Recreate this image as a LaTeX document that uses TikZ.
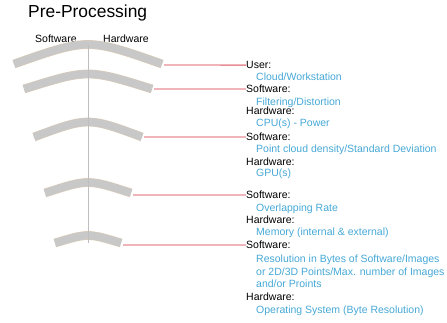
\documentclass[tikz,border=0pt]{standalone}
\usepackage{fontspec}
\setmainfont{Liberation Sans}
\usepackage{tikz}
\usetikzlibrary{positioning}

\definecolor{bandgray}{RGB}{200,200,200}
\definecolor{bandedge}{RGB}{222,204,182}
\definecolor{axisgray}{RGB}{190,190,190}
\definecolor{linkred}{RGB}{232,140,150}
\definecolor{detailblue}{RGB}{70,168,214}

\begin{document}
\begin{tikzpicture}[x=1pt, y=-1pt,
    bandrim/.style={draw=bandedge, line width=8.8pt},
    bandfill/.style={draw=bandgray, line width=7.8pt},
    axis/.style={draw=axisgray, line width=1pt},
    link/.style={draw=linkred, line width=1.3pt},
    head/.style={font=\fontsize{10.5}{12.5}\selectfont, inner sep=0pt, anchor=base west},
    topic/.style={head, text=black},
    detail/.style={head, text=detailblue, align=left}
    ]
    \useasboundingbox (0,0) rectangle (447,322);

    % ===== TITLE + COLUMN HEADS =====
    \node[head, font=\fontsize{17.4}{20}\selectfont] (title) at (28,17.5) {Pre-Processing};
    \node[head] (swhead) at (35,42.7) {Software};
    \node[head] (hwhead) at (103,42.7) {Hardware};

    % ===== BANDS (half width / chord y / sag / link y) =====
    \foreach \i/\h/\cy/\s/\ry in {1/74/64/13/65, 2/64/89/10/89, 3/54/137/10/137, 4/43/193/7/195, 5/33/243/5/245} {
        \draw[bandrim] ({88-\h},\cy) .. controls (88,{\cy-2*\s}) .. ({88+\h},\cy);
        \draw[bandfill] ({88-\h},\cy) .. controls (88,{\cy-2*\s}) .. ({88+\h},\cy);
        \coordinate (e\i) at ({88+\h+2},\ry);
    }

    % ===== AXIS =====
    \coordinate (axtop) at (88,45);
    \coordinate (axbot) at (88,243);
    \draw[axis] (axtop) -- (axbot);

    % ===== LABELS =====
    \node[topic] (l1) at (246,68.7) {User:};
    \node[detail] (d1) at (256,80.7) {Cloud/Workstation};

    \node[topic] (l2) at (246,92.7) {Software:};
    \node[detail] (d2) at (256,105.4) {Filtering/Distortion};
    \node[topic] (h2) at (246,114.7) {Hardware:};
    \node[detail] (k2) at (256,126) {CPU(s) - Power};

    \node[topic] (l3) at (246,140.7) {Software:};
    \node[detail] (d3) at (256,152.7) {Point cloud density/Standard Deviation};
    \node[topic] (h3) at (246,165.7) {Hardware:};
    \node[detail] (k3) at (256,176.7) {GPU(s)};

    \node[topic] (l4) at (246,198.7) {Software:};
    \node[detail] (d4) at (256,211.7) {Overlapping Rate};
    \node[topic] (h4) at (246,223.7) {Hardware:};
    \node[detail] (k4) at (256,235.7) {Memory (internal \& external)};

    \node[topic] (l5) at (246,248.7) {Software:};
    % base of a multi-line node is its last line
    \node[detail] (d5) at (256,287.7) {Resolution in Bytes of Software/Images\\or 2D/3D Points/Max. number of Images\\and/or Proints};
    \node[topic] (h5) at (246,300.7) {Hardware:};
    \node[detail] (k5) at (256,313.7) {Operating System (Byte Resolution)};

    % ===== LINKS =====
    \foreach \i in {1,...,5} {
        \draw[link] (e\i) -- (l\i.west);
    }
\end{tikzpicture}
\end{document}
